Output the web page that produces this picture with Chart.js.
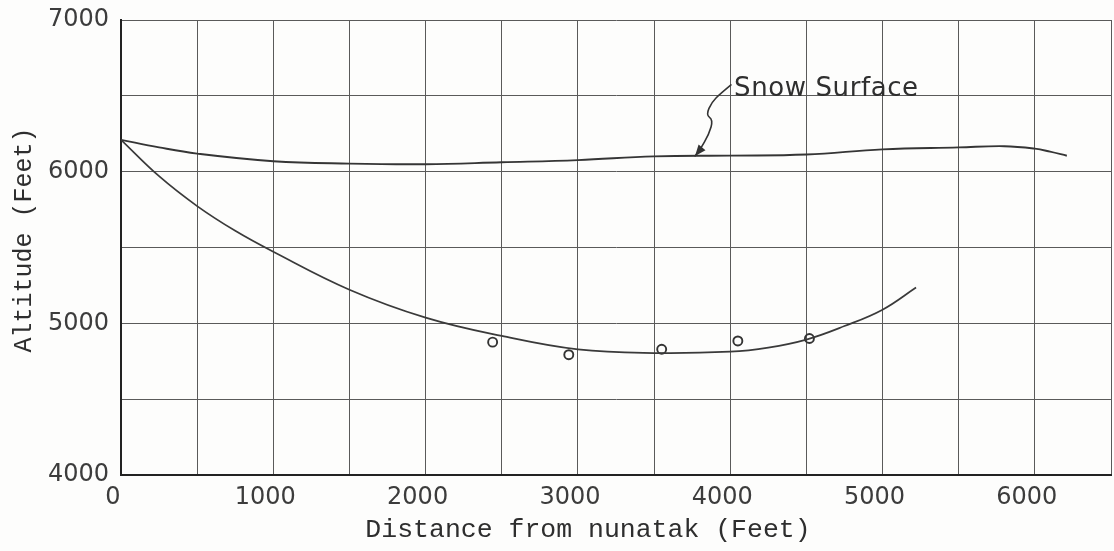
<!DOCTYPE html>
<html><head><meta charset="utf-8">
<script src="https://cdn.jsdelivr.net/npm/chart.js@4"></script>
<style>html,body{margin:0;padding:0;background:#fff;}#wrap{width:1114px;height:551px;}</style>
</head><body><div id="wrap"><canvas id="c" width="1114" height="551"></canvas></div>
<script>
// ---- data ----
const snowX = [0, 250, 500, 1000, 1500, 2000, 2500, 3000, 3500, 4000, 4500, 5000, 5500, 5800, 6000, 6100, 6210];
const snowY = [6210, 6160, 6119, 6069, 6053, 6049, 6062, 6076, 6101, 6106, 6113, 6147, 6160, 6168, 6152, 6132, 6105];
const bedX = [0, 250, 500, 750, 1000, 1500, 2000, 2500, 3000, 3500, 4000, 4250, 4500, 4750, 5000, 5220];
const bedY = [6210, 5970, 5773, 5610, 5472, 5222, 5038, 4917, 4828, 4804, 4813, 4840, 4893, 4982, 5090, 5236];
const obsX = [2440, 2940, 3550, 4050, 4520];
const obsY = [4876, 4793, 4829, 4884, 4900];
const xTickLabels = ['0', '1000', '2000', '3000', '4000', '5000', '6000'];
const yTickLabels = ['4000', '5000', '6000', '7000'];
const xTitle = 'Distance from nunatak (Feet)';
const yTitle = 'Altitude (Feet)';
const noteText = 'Snow Surface';
const noteAt = [4025, 6500];
const arrowX = [4005, 3933, 3880, 3841, 3887, 3861, 3801, 3769];
const arrowY = [6572, 6512, 6460, 6374, 6341, 6249, 6143, 6104];

const toPts = (xs, ys) => xs.map((x, i) => ({x: x, y: ys[i]}));

const annot = {
  id: 'annot',
  beforeDraw(chart) {
    const ctx = chart.ctx;
    ctx.save();
    ctx.fillStyle = '#fdfdfc';
    ctx.fillRect(0, 0, chart.width, chart.height);
    ctx.restore();
  },
  afterDraw(chart) {
    const {ctx, scales: {x, y}, chartArea} = chart;
    ctx.save();
    // axis titles
    ctx.fillStyle = '#2e2e2e';
    ctx.font = '26.5px "Liberation Mono"';
    ctx.textAlign = 'center';
    ctx.textBaseline = 'middle';
    ctx.fillText(xTitle, chartArea.left + 467, 530);
    ctx.save();
    ctx.translate(24, 240);
    ctx.rotate(-Math.PI / 2);
    ctx.font = '25px "Liberation Mono"';
    ctx.fillText(yTitle, 0, 0);
    ctx.restore();
    // note text
    ctx.fillStyle = '#2f2f2f';
    ctx.font = '26px "DejaVu Sans"';
    ctx.textAlign = 'left';
    ctx.textBaseline = 'alphabetic';
    try { ctx.letterSpacing = '0.6px'; } catch (e) {}
    ctx.fillText(noteText, x.getPixelForValue(noteAt[0]), y.getPixelForValue(noteAt[1]));
    try { ctx.letterSpacing = '0px'; } catch (e) {}
    // arrow
    const px = arrowX.map(v => x.getPixelForValue(v));
    const py = arrowY.map(v => y.getPixelForValue(v));
    ctx.strokeStyle = '#333';
    ctx.lineWidth = 1.6;
    ctx.lineJoin = 'round';
    ctx.lineCap = 'round';
    ctx.beginPath();
    ctx.moveTo(px[0], py[0]);
    for (let i = 1; i < px.length - 1; i++) {
      const mx = (px[i] + px[i + 1]) / 2, my = (py[i] + py[i + 1]) / 2;
      ctx.quadraticCurveTo(px[i], py[i], mx, my);
    }
    ctx.lineTo(px[px.length - 1], py[py.length - 1]);
    ctx.stroke();
    const n = px.length - 1;
    const ang = Math.atan2(py[n] - py[n - 1], px[n] - px[n - 1]);
    const L = 11, W = 4.5;
    ctx.fillStyle = '#333';
    ctx.beginPath();
    ctx.moveTo(px[n], py[n]);
    ctx.lineTo(px[n] - L * Math.cos(ang) + W * Math.sin(ang), py[n] - L * Math.sin(ang) - W * Math.cos(ang));
    ctx.lineTo(px[n] - L * Math.cos(ang) - W * Math.sin(ang), py[n] - L * Math.sin(ang) + W * Math.cos(ang));
    ctx.closePath();
    ctx.fill();
    ctx.restore();
  }
};

const tickFont = {family: 'DejaVu Sans', size: 24};

new Chart(document.getElementById('c'), {
  type: 'scatter',
  data: {
    datasets: [
      {label: 'Snow Surface', data: toPts(snowX, snowY), showLine: true, borderColor: '#353535', borderWidth: 1.9,
       pointRadius: 0, tension: 0.4, fill: false},
      {label: 'Bed', data: toPts(bedX, bedY), showLine: true, borderColor: '#3a3a3a', borderWidth: 1.7,
       pointRadius: 0, tension: 0.4, fill: false},
      {label: 'Observed', data: toPts(obsX, obsY), showLine: false, pointRadius: 4.5, pointBorderWidth: 1.9,
       pointBorderColor: '#333', pointBackgroundColor: 'rgba(255,255,255,0)'}
    ]
  },
  options: {
    responsive: false,
    animation: false,
    devicePixelRatio: 1,
    layout: {autoPadding: false, padding: {left: 0, right: 3, top: 20, bottom: 0}},
    plugins: {legend: {display: false}, tooltip: {enabled: false}},
    scales: {
      x: {
        type: 'linear', min: 0, max: 6500,
        ticks: {stepSize: 500, autoSkip: false, maxRotation: 0, padding: 8, labelOffset: -8, color: '#3c3c3c', font: tickFont,
                callback: v => xTickLabels.includes(String(v)) ? String(v) : ''},
        grid: {color: '#5a5a5a', lineWidth: 1, drawTicks: false},
        border: {display: true, color: '#222', width: 2},
        afterFit(s) { s.height = 76; s.paddingLeft = 0; s.paddingRight = 0; }
      },
      y: {
        type: 'linear', min: 4000, max: 7000,
        ticks: {stepSize: 500, autoSkip: false, padding: 12, color: '#3c3c3c', font: tickFont,
                callback: v => yTickLabels.includes(String(v)) ? String(v) : ''},
        grid: {color: '#5a5a5a', lineWidth: 1, drawTicks: false},
        border: {display: true, color: '#222', width: 2},
        afterFit(s) { s.width = 121; s.paddingTop = 0; s.paddingBottom = 0; }
      }
    }
  },
  plugins: [annot]
});
</script>
</body></html>
